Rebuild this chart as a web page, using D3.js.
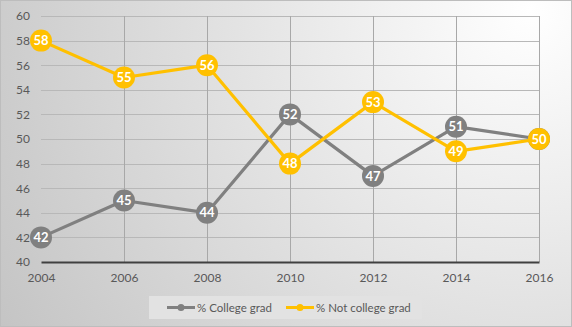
<!DOCTYPE html>
<html><head><meta charset="utf-8">
<script src="https://cdn.jsdelivr.net/npm/d3@7"></script>
<style>html,body{margin:0;padding:0;background:#fff;}svg{display:block;}</style>
</head><body>
<svg id="c" width="572" height="327"></svg>
<script>
const years = [2004, 2006, 2008, 2010, 2012, 2014, 2016];
const collegeGrad = [42, 45, 44, 52, 47, 51, 50];
const notCollegeGrad = [58, 55, 56, 48, 53, 49, 50];
const yTicks = [40, 42, 44, 46, 48, 50, 52, 54, 56, 58, 60];
const seriesNames = ["% College grad", "% Not college grad"];
const seriesColors = ["#808080", "#FFC000"];

const svg = d3.select("#c");
const W = 572, H = 327;
const defs = svg.append("defs");
const g = defs.append("radialGradient").attr("id","bg").attr("gradientUnits","userSpaceOnUse")
  .attr("cx", 530).attr("cy", 10).attr("r", 620);
g.append("stop").attr("offset","0%").attr("stop-color","#ffffff");
g.append("stop").attr("offset","100%").attr("stop-color","#c4c4c4");
svg.append("rect").attr("x",0.5).attr("y",0.5).attr("width",W-1).attr("height",H-1)
  .attr("fill","url(#bg)").attr("stroke","#bdbdbd");

const x = d3.scalePoint().domain(years).range([41, 539]);
const y = d3.scaleLinear().domain([40, 60]).range([262, 16]);

// grid
const grid = svg.append("g");
grid.selectAll(".h").data(yTicks.slice(1)).join("line")
  .attr("x1", 41).attr("x2", 539).attr("y1", d=>Math.round(y(d))+0.5).attr("y2", d=>Math.round(y(d))+0.5)
  .attr("stroke","#b8b8b8").attr("stroke-width",1);
grid.selectAll(".v").data(years.slice(1)).join("line")
  .attr("x1", d=>Math.round(x(d))+0.5).attr("x2", d=>Math.round(x(d))+0.5).attr("y1", 16).attr("y2", 262)
  .attr("stroke","#a8a8a8").attr("stroke-width",1);

// axes
const yAxis = d3.axisLeft(y).tickValues(yTicks).tickSize(0).tickPadding(11);
const ya = svg.append("g").attr("transform","translate(41,0)").call(yAxis);
ya.select(".domain").remove();
ya.selectAll("text").attr("fill","#595959").style("font-family","Lato, 'Open Sans', sans-serif").style("font-size","12px");

const xAxis = d3.axisBottom(x).tickSize(0).tickPadding(11).tickFormat(d3.format("d"));
const xa = svg.append("g").attr("transform","translate(0,262)").call(xAxis);
xa.select(".domain").attr("stroke","#404040").attr("stroke-width",2);
xa.selectAll("text").attr("fill","#595959").style("font-family","Lato, 'Open Sans', sans-serif").style("font-size","12px");

const series = [collegeGrad, notCollegeGrad];
const line = d3.line().x((d,i)=>x(years[i])).y(d=>y(d));
series.forEach((s, k) => {
  const gg = svg.append("g");
  gg.append("path").datum(s).attr("d", line).attr("fill","none")
    .attr("stroke", seriesColors[k]).attr("stroke-width",3.2).attr("stroke-linejoin","round");
  const pts = gg.selectAll("g.p").data(s).join("g").attr("transform",(d,i)=>`translate(${x(years[i])},${y(d)})`);
  pts.append("circle").attr("r",11).attr("fill",seriesColors[k]);
  pts.append("text").text(d=>d).attr("text-anchor","middle").attr("dy","0.36em")
    .attr("fill","#fff").style("font-family","Lato, 'Open Sans', sans-serif").style("font-size","13px").style("font-weight","bold");
});

// legend
const lg = svg.append("g");
lg.append("rect").attr("x",149).attr("y",296).attr("width",273).attr("height",23).attr("fill","#e2e2e2");
const items = [{x:167, tx:197},{x:286, tx:316}];
items.forEach((it,k)=>{
  lg.append("line").attr("x1",it.x).attr("x2",it.x+28).attr("y1",307.5).attr("y2",307.5)
    .attr("stroke",seriesColors[k]).attr("stroke-width",3);
  lg.append("circle").attr("cx",it.x+14).attr("cy",307.5).attr("r",3.5).attr("fill",seriesColors[k]);
  lg.append("text").attr("x",it.tx).attr("y",307.5).attr("dy","0.35em").text(seriesNames[k])
    .attr("fill","#595959").style("font-family","Lato, 'Open Sans', sans-serif").style("font-size","11.5px");
});
</script>
</body></html>
